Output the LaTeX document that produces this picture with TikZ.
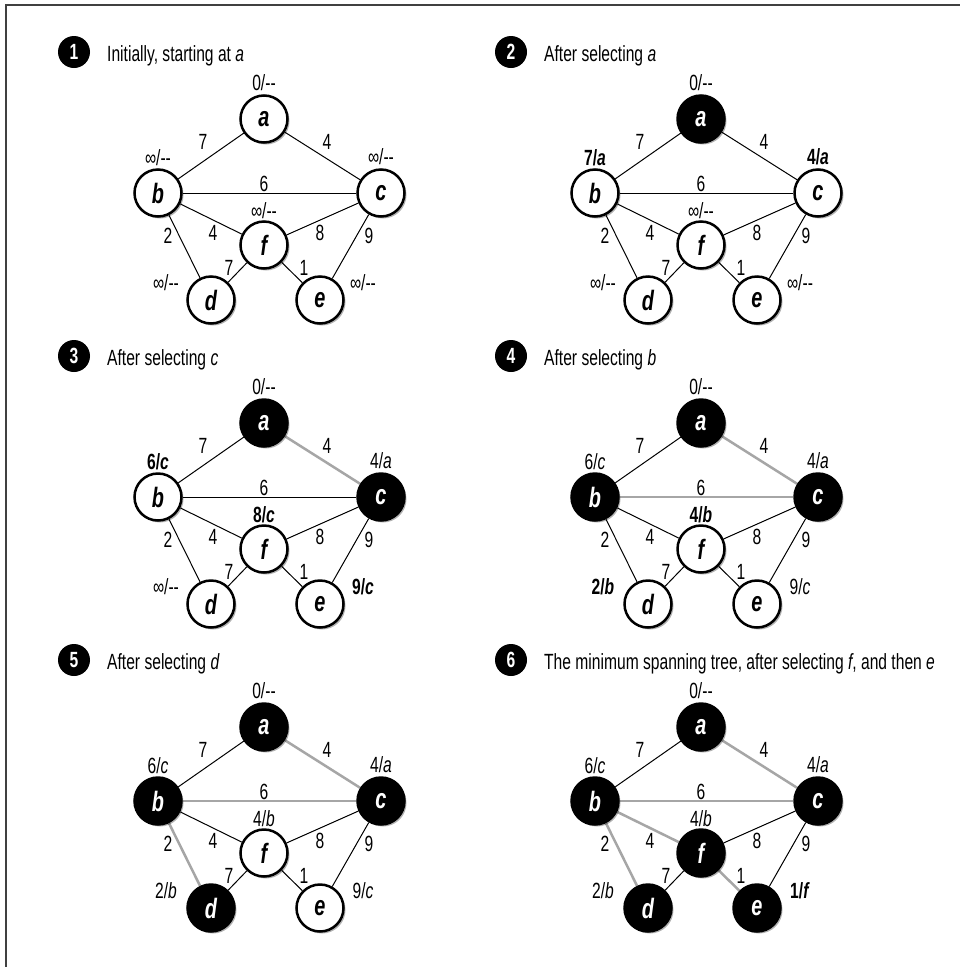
\documentclass[tikz,border=0pt]{standalone}
\usepackage{fontspec}
\setmainfont{Liberation Sans}[FakeStretch=0.71]
\usetikzlibrary{shadows,backgrounds}

\tikzset{
  gnode/.style={circle, draw=black, line width=2.5pt, minimum size=47pt, inner sep=0pt,
    font=\fontsize{28}{28}\selectfont\bfseries\itshape,
    drop shadow={shadow xshift=2pt, shadow yshift=-2pt, opacity=0.3, fill=black}},
  wn/.style={fill=white, text=black},
  bn/.style={fill=black, text=white},
  vlab/.style={inner sep=0pt, font=\fontsize{22}{22}\selectfont},
  wlab/.style={inner sep=0pt, font=\fontsize{22}{22}\selectfont},
  plainedge/.style={draw=black, line width=1pt},
  treeedge/.style={draw=black!35, line width=2.5pt},
  badge/.style={circle, fill=black, minimum size=32pt, inner sep=0pt, text=white,
    font=\fontsize{22}{22}\selectfont\bfseries},
  ptitle/.style={anchor=base west, inner sep=0pt, font=\fontsize{22}{22}\selectfont},
  na/.style=wn, nb/.style=wn, nc/.style=wn, nf/.style=wn, nd/.style=wn, ne/.style=wn,
  eab/.style=plainedge, eac/.style=plainedge, ebc/.style=plainedge,
  ebf/.style=plainedge, ecf/.style=plainedge, ebd/.style=plainedge,
  ece/.style=plainedge, efd/.style=plainedge, efe/.style=plainedge,
}

\newcommand\Graph[6]{%
  \node[gnode,na] (a) at (264,119) {a};
  \node[gnode,nb] (b) at (158,193) {b};
  \node[gnode,nc] (c) at (381,193) {c};
  \node[gnode,nf] (f) at (264,245) {f};
  \node[gnode,nd] (d) at (211,300) {d};
  \node[gnode,ne] (e) at (320,300) {e};
  \begin{pgfonlayer}{background}
    \draw[eab] (a) -- (b);
    \draw[eac] (a) -- (c);
    \draw[ebc] (b) -- (c);
    \draw[ebf] (b) -- (f);
    \draw[ecf] (c) -- (f);
    \draw[ebd] (b) -- (d);
    \draw[ece] (c) -- (e);
    \draw[efd] (f) -- (d);
    \draw[efe] (f) -- (e);
  \end{pgfonlayer}
  \node[vlab] (la) at (264,83) {#1};
  \node[vlab] (lb) at (158,158) {#2};
  \node[vlab] (lc) at (381,157) {#3};
  \node[vlab] (lf) at (264,211) {#4};
  \node[vlab] (ld) at (166,283) {#5};
  \node[vlab] (le) at (363,283) {#6};
  \node[wlab] (wab) at (203,142) {7};
  \node[wlab] (wac) at (327,142) {4};
  \node[wlab] (wbc) at (264,184) {6};
  \node[wlab] (wbf) at (213,233) {4};
  \node[wlab] (wcf) at (320,233) {8};
  \node[wlab] (wbd) at (168,236) {2};
  \node[wlab] (wce) at (369,236) {9};
  \node[wlab] (wfd) at (229,268) {7};
  \node[wlab] (wfe) at (304,268) {1};
}

\newcommand\mstnone{-{}-}
\newcommand\mstinf{∞/-{}-}

\begin{document}
\begin{tikzpicture}[x=1pt,y=-1pt]
\useasboundingbox (0,0) rectangle (960,967);
\begin{pgfonlayer}{background}
  \fill[white] (0,0) rectangle (960,967);
\end{pgfonlayer}
\draw[line width=1.5pt, draw=black!75] (6,967) -- (6,5) -- (960,5);

% Panel 1
\begin{scope}[name prefix=p1-]
  \node[badge] (badge) at (74,52) {1};
  \node[ptitle] (title) at (107,61) {Initially, starting at \textit{a}};
  \Graph{0/\mstnone}{\mstinf}{\mstinf}{\mstinf}{\mstinf}{\mstinf}
\end{scope}

% Panel 2
\begin{scope}[shift={(437,0)}, name prefix=p2-, na/.style=bn]
  \node[badge] (badge) at (74,52) {2};
  \node[ptitle] (title) at (107,61) {After selecting \textit{a}};
  \Graph{0/\mstnone}{\textbf{7/\textit{a}}}{\textbf{4/\textit{a}}}{\mstinf}{\mstinf}{\mstinf}
\end{scope}

% Panel 3
\begin{scope}[shift={(0,304)}, name prefix=p3-, na/.style=bn, nc/.style=bn, eac/.style=treeedge]
  \node[badge] (badge) at (74,52) {3};
  \node[ptitle] (title) at (107,61) {After selecting \textit{c}};
  \Graph{0/\mstnone}{\textbf{6/\textit{c}}}{4/\textit{a}}{\textbf{8/\textit{c}}}{\mstinf}{\textbf{9/\textit{c}}}
\end{scope}

% Panel 4
\begin{scope}[shift={(437,304)}, name prefix=p4-, na/.style=bn, nb/.style=bn, nc/.style=bn,
    eac/.style=treeedge, ebc/.style=treeedge]
  \node[badge] (badge) at (74,52) {4};
  \node[ptitle] (title) at (107,61) {After selecting \textit{b}};
  \Graph{0/\mstnone}{6/\textit{c}}{4/\textit{a}}{\textbf{4/\textit{b}}}{\textbf{2/\textit{b}}}{9/\textit{c}}
\end{scope}

% Panel 5
\begin{scope}[shift={(0,608)}, name prefix=p5-, na/.style=bn, nb/.style=bn, nc/.style=bn, nd/.style=bn,
    eac/.style=treeedge, ebc/.style=treeedge, ebd/.style=treeedge]
  \node[badge] (badge) at (74,52) {5};
  \node[ptitle] (title) at (107,61) {After selecting \textit{d}};
  \Graph{0/\mstnone}{6/\textit{c}}{4/\textit{a}}{4/\textit{b}}{2/\textit{b}}{9/\textit{c}}
\end{scope}

% Panel 6
\begin{scope}[shift={(437,608)}, name prefix=p6-, na/.style=bn, nb/.style=bn, nc/.style=bn, nd/.style=bn,
    nf/.style=bn, ne/.style=bn,
    eac/.style=treeedge, ebc/.style=treeedge, ebd/.style=treeedge, ebf/.style=treeedge, efe/.style=treeedge]
  \node[badge] (badge) at (74,52) {6};
  \node[ptitle] (title) at (107,61) {The minimum spanning tree, after selecting \textit{f}, and then \textit{e}};
  \Graph{0/\mstnone}{6/\textit{c}}{4/\textit{a}}{4/\textit{b}}{2/\textit{b}}{\textbf{1/\textit{f}}}
\end{scope}
\end{tikzpicture}
\end{document}
